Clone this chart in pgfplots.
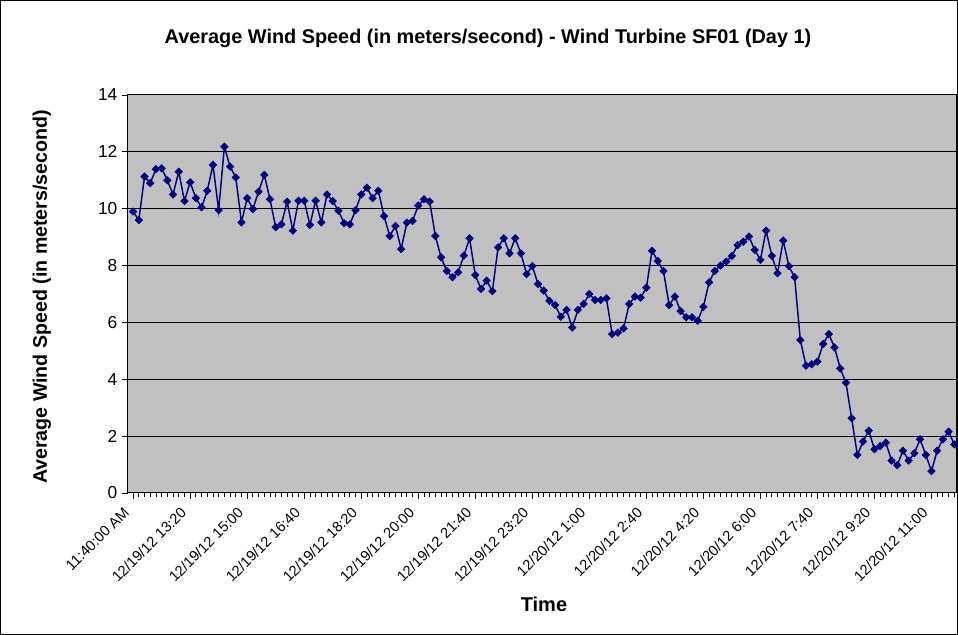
\documentclass[border=0pt]{standalone}
\usepackage{pgfplots}
\pgfplotsset{compat=1.18}
\usepackage{pgfplotstable}
\usepackage{fontspec}
\setmainfont{Liberation Sans}

\definecolor{plotbg}{RGB}{192,192,192}
\definecolor{navyline}{RGB}{0,0,128}

% average wind speed, one reading every 10 minutes
\pgfplotstableread{
idx speed
0 9.90
1 9.60
2 11.13
3 10.90
4 11.39
5 11.42
6 11.00
7 10.50
8 11.30
9 10.27
10 10.93
11 10.37
12 10.05
13 10.63
14 11.54
15 9.95
16 12.18
17 11.48
18 11.10
19 9.52
20 10.37
21 9.99
22 10.60
23 11.19
24 10.33
25 9.35
26 9.45
27 10.25
28 9.23
29 10.28
30 10.28
31 9.43
32 10.28
33 9.52
34 10.50
35 10.27
36 9.93
37 9.49
38 9.45
39 9.95
40 10.50
41 10.74
42 10.37
43 10.63
44 9.74
45 9.04
46 9.39
47 8.58
48 9.51
49 9.57
50 10.11
51 10.33
52 10.25
53 9.04
54 8.29
55 7.81
56 7.59
57 7.76
58 8.35
59 8.96
60 7.67
61 7.18
62 7.47
63 7.10
64 8.64
65 8.96
66 8.43
67 8.96
68 8.43
69 7.70
70 7.98
71 7.35
72 7.12
73 6.76
74 6.61
75 6.20
76 6.44
77 5.82
78 6.44
79 6.65
80 7.00
81 6.79
82 6.79
83 6.85
84 5.59
85 5.64
86 5.79
87 6.65
88 6.91
89 6.87
90 7.22
91 8.52
92 8.16
93 7.81
94 6.61
95 6.91
96 6.40
97 6.18
98 6.18
99 6.06
100 6.55
101 7.41
102 7.81
103 8.00
104 8.14
105 8.34
106 8.72
107 8.84
108 9.02
109 8.55
110 8.20
111 9.23
112 8.34
113 7.73
114 8.88
115 7.98
116 7.59
117 5.38
118 4.48
119 4.53
120 4.62
121 5.24
122 5.59
123 5.12
124 4.38
125 3.88
126 2.63
127 1.34
128 1.81
129 2.19
130 1.54
131 1.65
132 1.77
133 1.14
134 0.98
135 1.49
136 1.14
137 1.40
138 1.89
139 1.34
140 0.77
141 1.49
142 1.89
143 2.16
144 1.71
}\windtable

\begin{document}
\begin{tikzpicture}
\begin{axis}[
    at={(0,0)}, anchor=south west,
    scale only axis,
    width=621pt, height=298.5pt,
    xmin=-0.9, xmax=144.3,
    ymin=0, ymax=14,
    ytick={0,2,...,14},
    xtick={0,10,...,140},
    xticklabels={11:40:00 AM, 12/19/12 13:20, 12/19/12 15:00, 12/19/12 16:40,
        12/19/12 18:20, 12/19/12 20:00, 12/19/12 21:40, 12/19/12 23:20,
        12/20/12 1:00, 12/20/12 2:40, 12/20/12 4:20, 12/20/12 6:00,
        12/20/12 7:40, 12/20/12 9:20, 12/20/12 11:00},
    minor xtick={0,1,...,144},
    xtick pos=bottom, ytick pos=left,
    tick align=outside,
    major tick length=4.5pt, minor tick length=3pt,
    x tick style={black, line width=0.6pt},
    y tick style={black, line width=0.6pt},
    ymajorgrids,
    grid style={black, line width=0.75pt},
    axis background/.style={fill=plotbg},
    axis line style={black, line width=0.75pt},
    /pgf/number format/assume math mode=true,
    xticklabel style={rotate=45, anchor=north east, inner sep=1pt,
        xshift=-8.2pt, yshift=2.9pt,
        font=\fontsize{11}{13}\selectfont},
    yticklabel style={font=\fontsize{13}{15}\selectfont},
    title={Average Wind Speed (in meters/second) - Wind Turbine SF01 (Day 1)},
    title style={at={(axis description cs:0.4348,1.1231)}, anchor=center,
        font=\bfseries\fontsize{14.9}{17}\selectfont},
    xlabel={Time},
    xlabel style={at={(axis description cs:0.5024,-0.2789)}, anchor=center,
        font=\bfseries\fontsize{15}{17}\selectfont},
    ylabel={Average Wind Speed (in meters/second)},
    ylabel style={at={(axis description cs:-0.1039,0.4925)}, anchor=center,
        rotate=0, font=\bfseries\fontsize{14.7}{17}\selectfont},
]
\addplot[color=navyline, line width=1.1pt, mark=square*,
    mark size=2pt, mark options={rotate=45, fill=navyline, draw=navyline, line width=0.4pt}]
    table[x=idx, y=speed] {\windtable};
\end{axis}
\draw[black, line width=0.75pt] (-95.6pt,-106.1pt) rectangle (622.1pt,369.35pt);
\pgfresetboundingbox
\useasboundingbox (-96pt,-106.5pt) rectangle (622.5pt,369.75pt);
\end{tikzpicture}
\end{document}
